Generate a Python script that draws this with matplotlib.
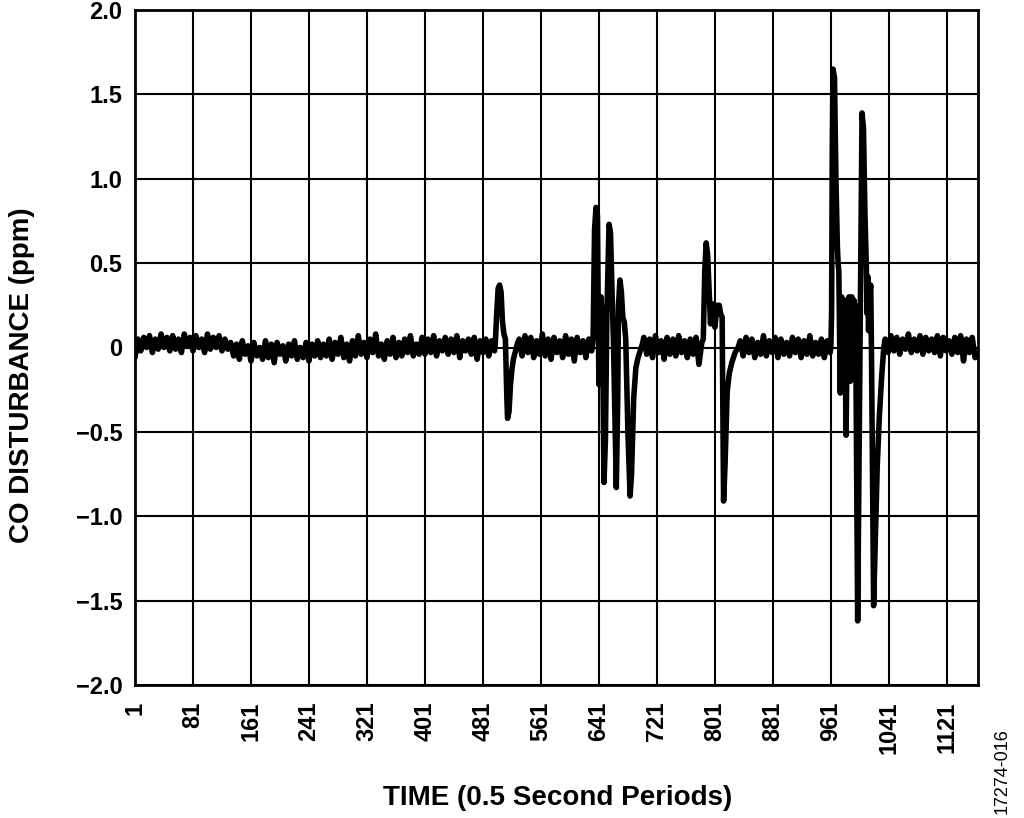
import numpy as np
import matplotlib
matplotlib.use("Agg")
import matplotlib.pyplot as plt

plt.rcParams['font.family'] = ['Liberation Sans', 'DejaVu Sans']

# ---- data (ppm) ----
quiet_step = 4
quiet_a_start = 1
quiet_a = [-0.06, 0.05, -0.02, 0.06, 0.00, 0.07, -0.03, 0.05, -0.01, 0.08, 0.00, 0.06, -0.02, 0.07, -0.01,
           0.05, -0.03, 0.08, 0.01, 0.06, -0.02, 0.07, 0.00, 0.05, -0.03, 0.08, -0.01, 0.06, 0.00, 0.07,
           -0.02, 0.05, -0.01,
           0.03, -0.05, 0.02, -0.07, 0.04, -0.04, 0.01, -0.08, 0.03, -0.05, 0.00, -0.07, 0.04, -0.06, 0.02,
           -0.09, 0.03, -0.04, 0.01, -0.08, 0.02, -0.05, 0.04, -0.07, 0.00, -0.06, 0.03, -0.08, 0.02, -0.05,
           0.04, -0.06, 0.02, -0.05, 0.05, -0.07, 0.03, -0.04, 0.06, -0.06, 0.02, -0.08, 0.04, -0.05, 0.07,
           -0.04, 0.03, -0.06, 0.05, -0.03, 0.08, -0.05, 0.02, -0.07, 0.04, -0.04, 0.06, -0.06, 0.03, -0.05,
           0.05, -0.03, 0.07, -0.05, 0.02, -0.04, 0.06,
           -0.04, 0.05, -0.03, 0.07, -0.05, 0.04, -0.02, 0.06, -0.04, 0.05, -0.03, 0.07, -0.06, 0.04, -0.02,
           0.05, -0.04, 0.06, -0.07, 0.04, -0.03, 0.05, -0.05, 0.04, -0.02]
event1_t = [498, 500, 502, 504, 506, 508, 510, 512, 514, 515, 517, 519, 521, 523, 526, 529]
event1_v = [0.02, 0.20, 0.35, 0.37, 0.33, 0.15, 0.08, 0.05, -0.30, -0.42, -0.38, -0.22, -0.13, -0.07, -0.02, 0.03]
quiet_b_start = 531
quiet_b = [0.05, -0.05, 0.07, -0.03, 0.06, -0.06, 0.04, -0.04, 0.08, -0.05, 0.05, -0.07, 0.06, -0.03,
           0.04, -0.06, 0.07, -0.04, 0.05, -0.08, 0.06, -0.03, 0.04, -0.06, 0.05, -0.02]
event2_t = [633, 635, 637, 639, 641, 643, 644, 646, 648, 650, 652, 655, 657, 659, 661, 663, 665, 667, 668,
            670, 672, 674, 676, 678, 681, 684, 686, 689, 692, 695, 698, 701]
event2_v = [0.05, 0.70, 0.83, 0.78, -0.22, 0.15, 0.30, 0.10, -0.80, -0.55, 0.20, 0.73, 0.68, 0.35, 0.05,
            -0.40, -0.83, -0.30, 0.25, 0.40, 0.33, 0.18, 0.15, 0.05, -0.50, -0.88, -0.75, -0.30, -0.12,
            -0.06, -0.02, 0.02]
quiet_c_start = 703
quiet_c = [0.06, -0.04, 0.05, -0.06, 0.07, -0.03, 0.04, -0.07, 0.06, -0.04, 0.05, -0.05, 0.07, -0.03,
           0.04, -0.06, 0.05, -0.04, 0.06, -0.10, 0.03]
event3_t = [785, 787, 789, 791, 793, 795, 797, 799, 801, 804, 807, 809, 811, 813, 815, 818, 821, 825, 829, 833]
event3_v = [0.05, 0.45, 0.62, 0.55, 0.35, 0.14, 0.26, 0.18, 0.12, 0.25, 0.25, 0.20, 0.18, -0.91, -0.70,
            -0.26, -0.15, -0.08, -0.03, 0.00]
quiet_d_start = 836
quiet_d = [0.04, -0.05, 0.06, -0.03, 0.05, -0.06, 0.03, -0.04, 0.07, -0.05, 0.04, -0.03, 0.06, -0.06,
           0.05, -0.04, 0.03, -0.05, 0.06, -0.03, 0.05, -0.06, 0.04, -0.04, 0.07, -0.05, 0.03, -0.04,
           0.05, -0.06, 0.04, -0.03]
event4_t = [961, 962, 963, 964, 966, 968, 970, 971, 972, 974, 975, 976, 978, 980, 982, 984, 985, 986, 988,
            989, 990, 992, 993, 994, 995, 998, 1004, 1006, 1008, 1010, 1011, 1012, 1013, 1014, 1016, 1017,
            1020, 1022, 1025, 1028, 1031, 1034]
event4_v = [0.00, 0.20, 1.20, 1.65, 1.60, 1.00, 0.60, 0.50, 0.45, -0.27, 0.10, 0.30, -0.05, 0.28, -0.52,
            0.25, -0.10, 0.30, -0.20, 0.22, 0.30, -0.15, 0.28, -0.05, 0.25, -1.62, 1.39, 1.30, 0.80, 0.47,
            0.20, 0.42, 0.10, 0.30, 0.37, 0.00, -1.53, -1.20, -0.70, -0.40, -0.18, 0.00]
quiet_e_start = 1036
quiet_e = [0.05, -0.03, 0.07, -0.02, 0.06, -0.04, 0.05, -0.01, 0.08, -0.03, 0.05, -0.02, 0.07, -0.04,
           0.06, -0.02, 0.05, -0.03, 0.07, -0.05, 0.06, -0.02, 0.04, -0.04, 0.06, -0.03, 0.07, -0.08,
           0.05, -0.03, 0.06, -0.06, -0.03]

xtick_vals = [1, 81, 161, 241, 321, 401, 481, 561, 641, 721, 801, 881, 961, 1041, 1121]
ytick_vals = [2.0, 1.5, 1.0, 0.5, 0.0, -0.5, -1.0, -1.5, -2.0]
ytick_labels = ["2.0", "1.5", "1.0", "0.5", "0", "\u22120.5", "\u22121.0", "\u22121.5", "\u22122.0"]


def quiet_times(start, vals):
    return list(start + quiet_step * np.arange(len(vals)))


time = (quiet_times(quiet_a_start, quiet_a) + event1_t + quiet_times(quiet_b_start, quiet_b) + event2_t +
        quiet_times(quiet_c_start, quiet_c) + event3_t + quiet_times(quiet_d_start, quiet_d) + event4_t +
        quiet_times(quiet_e_start, quiet_e))
co = quiet_a + event1_v + quiet_b + event2_v + quiet_c + event3_v + quiet_d + event4_v + quiet_e

fig = plt.figure(figsize=(10.24, 8.18), dpi=100)
ax = fig.add_axes([135 / 1024, 1 - 685 / 818, (978 - 135) / 1024, (685 - 10) / 818])

ax.plot(time, co, color='black', linewidth=4.0, solid_joinstyle='round', solid_capstyle='round', zorder=3)

ax.set_xlim(1, 1164)
ax.set_ylim(-2.0, 2.0)
ax.set_xticks(xtick_vals)
ax.set_xticklabels([str(v) for v in xtick_vals], rotation=90, fontsize=17, fontweight='bold', va='top')
ax.set_yticks(ytick_vals)
ax.set_yticklabels(ytick_labels, fontsize=17, fontweight='bold')
ax.tick_params(axis='both', length=0)
ax.tick_params(axis='x', pad=12)
ax.tick_params(axis='y', pad=9)
ax.grid(True, color='black', linewidth=1.5, zorder=1)
for sp in ax.spines.values():
    sp.set_linewidth(2)
    sp.set_color('black')

fig.text(558 / 1024, 1 - 798 / 818, "TIME (0.5 Second Periods)", fontsize=20, fontweight='bold',
         ha='center', va='center')
fig.text(22 / 1024, 1 - 375 / 818, "CO DISTURBANCE (ppm)", fontsize=20, fontweight='bold',
         rotation=90, ha='center', va='center')
fig.text(1002 / 1024, 1 - 771 / 818, "17274-016", fontsize=13, rotation=90, ha='center', va='center')

fig.savefig("out.png", dpi=100)
